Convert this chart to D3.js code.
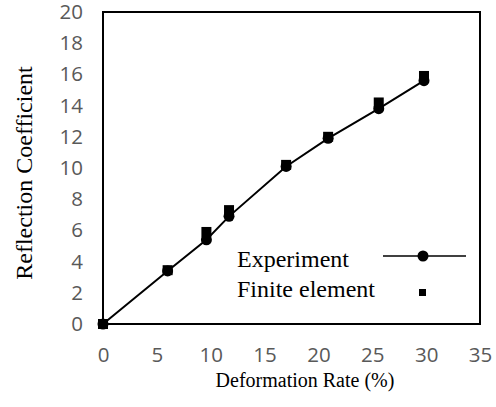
<!DOCTYPE html>
<html>
<head>
<meta charset="utf-8">
<script src="https://cdn.jsdelivr.net/npm/d3@7"></script>
<style>
  body { margin: 0; background: #fff; }
  .tick text { font-family: "Open Sans", sans-serif; font-size: 20.5px; fill: #595959; }
  .serif { font-family: "Liberation Serif", "Times New Roman", serif; fill: #000; }
</style>
</head>
<body>
<svg width="496" height="407"></svg>
<script>
const deformation = [0, 6, 9.6, 11.7, 17.0, 20.9, 25.6, 29.8];
const experiment = [0, 3.4, 5.4, 6.9, 10.1, 11.9, 13.8, 15.6];
const finiteElement = [0, 3.45, 5.9, 7.3, 10.2, 12.0, 14.2, 15.9];
const xTicks = [0, 5, 10, 15, 20, 25, 30, 35];
const yTicks = [0, 2, 4, 6, 8, 10, 12, 14, 16, 18, 20];

const svg = d3.select('svg');
const margin = { top: 12, right: 16, bottom: 83, left: 103 };
const width = +svg.attr('width');
const height = +svg.attr('height');
const innerWidth = width - margin.left - margin.right;
const innerHeight = height - margin.top - margin.bottom;

const xScale = d3.scaleLinear().domain([0, 35]).range([0, innerWidth]);
const yScale = d3.scaleLinear().domain([0, 20]).range([innerHeight, 0]);

const g = svg.append('g')
  .attr('transform', `translate(${margin.left}, ${margin.top})`);

// axes: labels only, the box is drawn separately
const yAxis = g.append('g')
  .call(d3.axisLeft(yScale).tickValues(yTicks).tickSize(0).tickPadding(20));
yAxis.select('.domain').remove();

const xAxis = g.append('g')
  .attr('transform', `translate(0, ${innerHeight})`)
  .call(d3.axisBottom(xScale).tickValues(xTicks).tickSize(0).tickPadding(23));
xAxis.select('.domain').remove();

g.append('rect')
  .attr('width', innerWidth)
  .attr('height', innerHeight)
  .attr('fill', 'none')
  .attr('stroke', '#000')
  .attr('stroke-width', 2);

const pts = deformation.map((x, i) => ({ x, exp: experiment[i], fe: finiteElement[i] }));

const line = d3.line()
  .x(d => xScale(d.x))
  .y(d => yScale(d.exp));

g.append('path')
  .datum(pts)
  .attr('d', line)
  .attr('fill', 'none')
  .attr('stroke', '#000')
  .attr('stroke-width', 2);

const sq = 10;
g.selectAll('rect.fe').data(pts)
  .enter().append('rect')
  .attr('class', 'fe')
  .attr('x', d => xScale(d.x) - sq / 2)
  .attr('y', d => yScale(d.fe) - sq / 2)
  .attr('width', sq)
  .attr('height', sq)
  .attr('fill', '#000');

g.selectAll('circle.exp').data(pts)
  .enter().append('circle')
  .attr('class', 'exp')
  .attr('cx', d => xScale(d.x))
  .attr('cy', d => yScale(d.exp))
  .attr('r', 5.5)
  .attr('fill', '#000');

// axis titles
svg.append('text')
  .attr('class', 'serif')
  .attr('x', 305)
  .attr('y', 387)
  .attr('text-anchor', 'middle')
  .attr('font-size', 20)
  .text('Deformation Rate (%)');

svg.append('text')
  .attr('class', 'serif')
  .attr('transform', 'translate(32, 173) rotate(-90)')
  .attr('text-anchor', 'middle')
  .attr('font-size', 24)
  .text('Reflection Coefficient');

// legend
const legend = svg.append('g');
legend.append('text')
  .attr('class', 'serif')
  .attr('x', 237).attr('y', 267)
  .attr('font-size', 24)
  .text('Experiment');
legend.append('text')
  .attr('class', 'serif')
  .attr('x', 237).attr('y', 297)
  .attr('font-size', 24)
  .text('Finite element');
legend.append('line')
  .attr('x1', 383).attr('x2', 466)
  .attr('y1', 256).attr('y2', 256)
  .attr('stroke', '#000').attr('stroke-width', 1.5);
legend.append('circle')
  .attr('cx', 423).attr('cy', 256).attr('r', 5.5)
  .attr('fill', '#000');
legend.append('rect')
  .attr('x', 419).attr('y', 289).attr('width', 7).attr('height', 7)
  .attr('fill', '#000');
</script>
</body>
</html>
